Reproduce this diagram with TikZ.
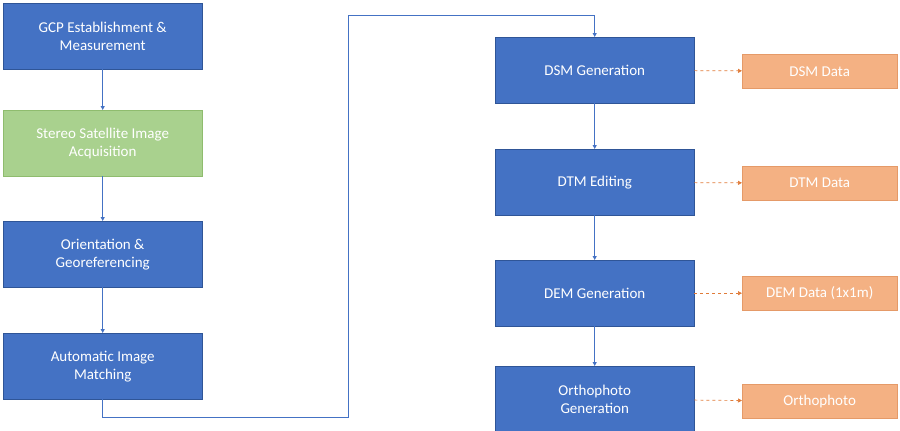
\documentclass[tikz,border=0pt]{standalone}
\usepackage{fontspec}
\setmainfont{Carlito}
\usetikzlibrary{arrows.meta}
\definecolor{bl}{HTML}{4472C4}
\definecolor{blb}{HTML}{2F5597}
\definecolor{gr}{HTML}{A9D18E}
\definecolor{grb}{HTML}{8FBC6E}
\definecolor{or}{HTML}{F4B183}
\definecolor{orb}{HTML}{E59A68}
\definecolor{ln}{HTML}{4472C4}
\definecolor{dl}{HTML}{E07B39}
\begin{document}
\begin{tikzpicture}[x=1pt,y=-1pt,
 box/.style={draw=blb,fill=bl,text=white,minimum width=199pt,minimum height=66pt,align=center,font=\fontsize{15}{18}\selectfont,inner sep=0pt,anchor=north west},
 gbox/.style={box,draw=grb,fill=gr},
 obox/.style={box,draw=orb,fill=or,minimum width=155pt,minimum height=34pt},
 arr/.style={draw=ln,line width=0.9pt,-{Triangle[length=4pt,width=4pt]}},
 darr/.style={draw=dl,line width=0.7pt,dashed,dash pattern=on 3pt off 3pt,-{Triangle[length=4pt,width=4pt]}}]
\useasboundingbox (0,0) rectangle (900,431);
\node[box] (a) at (3,3) {GCP Establishment \&\\Measurement};
\node[gbox] (b) at (3,110) {Stereo Satellite Image\\Acquisition};
\node[box] (c) at (3,221) {Orientation \&\\Georeferencing};
\node[box] (d) at (3,333) {Automatic Image\\Matching};
\node[box,minimum width=199pt] (e) at (495,37) {DSM Generation};
\node[box] (f) at (495,149) {DTM Editing};
\node[box] (g) at (495,260) {DEM Generation};
\node[box] (h) at (495,366) {Orthophoto\\Generation};
\node[obox] (e2) at (742,54) {DSM Data};
\node[obox] (f2) at (742,166) {DTM Data};
\node[obox] (g2) at (742,276) {DEM Data (1x1m)};
\node[obox] (h2) at (742,384) {Orthophoto};
\draw[arr] (a) -- (b);
\draw[arr] (b) -- (c);
\draw[arr] (c) -- (d);
\draw[arr] (d.south) -- ++(0,18) -| (348,15) -| (e.north);
\draw[arr] (e) -- (f);
\draw[arr] (f) -- (g);
\draw[arr] (g) -- (h);
\draw[darr] (e) -- (e2);
\draw[darr] (f) -- (f2);
\draw[darr] (g) -- (g2);
\draw[darr] (h) -- (h2);
\end{tikzpicture}
\end{document}
